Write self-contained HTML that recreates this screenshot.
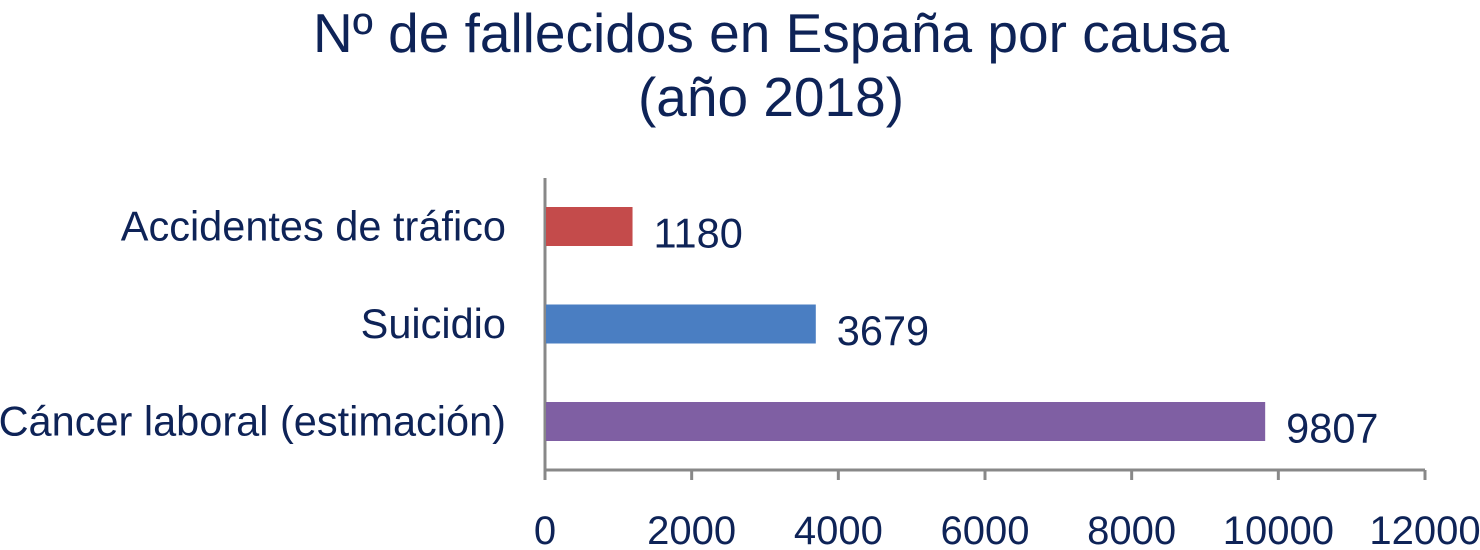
<!DOCTYPE html>
<html><head><meta charset="utf-8"><style>
html,body{margin:0;padding:0;background:#fff;}
svg{display:block;font-family:"Liberation Sans",Arial,sans-serif;}
</style></head><body>
<svg id="chart" width="1480" height="550">
<text x="771" y="52" text-anchor="middle" font-size="55" fill="#0e2357">Nº de fallecidos en España por causa</text>
<text x="771" y="116" text-anchor="middle" font-size="55" fill="#0e2357">(año 2018)</text>
<g id="plot"></g>
</svg>
<script>
const categories = ["Accidentes de tráfico","Suicidio","Cáncer laboral (estimación)"];
const values = [1180, 3679, 9807];
const colors = ["#c44b4b","#4a7ec2","#7f5fa3"];
const ticks = [0,2000,4000,6000,8000,10000,12000];
const NS="http://www.w3.org/2000/svg";
const plotG=document.getElementById('plot');
const x0=545,x1=1425,xMax=12000,axisY=470,axisTop=178;
const xs=v=>x0+(v/xMax)*(x1-x0);
const band=97.5,firstC=226.5,barH=39;
const yc=i=>firstC+i*band;
function mk(t,a){const e=document.createElementNS(NS,t);for(const k in a)e.setAttribute(k,a[k]);plotG.appendChild(e);return e;}
let ax=mk('line',{x1:x0,y1:axisTop,x2:x0,y2:axisY+10,stroke:'#888','stroke-width':3});


ax=mk('line',{x1:x0,y1:axisY,x2:x1,y2:axisY,stroke:'#888','stroke-width':3});


ticks.forEach(t=>{
 let l=mk('line',{x1:xs(t),y1:axisY,x2:xs(t),y2:axisY+10,stroke:'#888','stroke-width':3});
 
 
 let tx=mk('text',{x:xs(t),y:544,'text-anchor':'middle','font-size':40,fill:'#0e2357'});
 tx.textContent=t;
 
 
});
categories.forEach((c,i)=>{
 let r=mk('rect',{x:x0+1,y:yc(i)-barH/2,width:xs(values[i])-x0,height:barH,fill:colors[i]});
 
 
 let l=mk('text',{x:506,y:yc(i)+14,'text-anchor':'end','font-size':41.5,fill:'#0e2357'});
 l.textContent=c;
 
 
 let v=mk('text',{x:xs(values[i])+22,y:yc(i)+21,'font-size':41.5,fill:'#0e2357'});
 v.textContent=values[i];
 
 
});
</script>
</body></html>
